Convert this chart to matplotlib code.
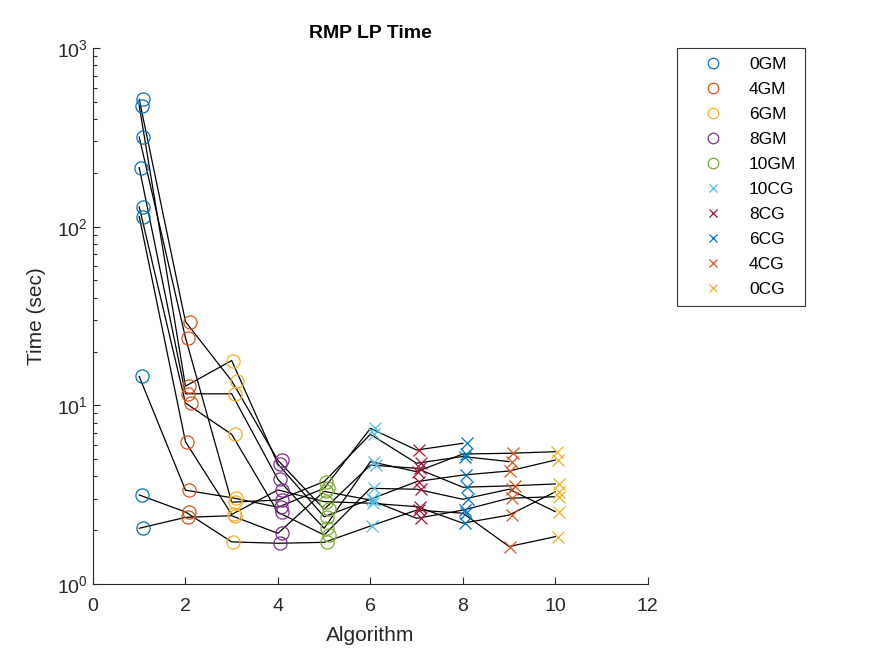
import numpy as np
import matplotlib.pyplot as plt

plt.rcParams['font.family'] = ['Liberation Sans', 'DejaVu Sans']

# algorithm names (x = 1..10)
algos = ['0GM', '4GM', '6GM', '8GM', '10GM', '10CG', '8CG', '6CG', '4CG', '0CG']
markers = ['o', 'o', 'o', 'o', 'o', 'x', 'x', 'x', 'x', 'x']
colors = ['#0072BD', '#D95319', '#EDB120', '#7E2F8E', '#77AC30',
          '#4DBEEE', '#A2142F', '#0072BD', '#D95319', '#EDB120']

nan = np.nan
# LP time (sec) per instance, one value per algorithm
inst1 = [516, 29.4, 13.7, 4.92, 2.62, 4.63, 4.44, 3.48, 3.54, 3.63]
inst2 = [475, 12.8, 17.8, 4.69, 2.38, 2.98, 3.74, 4.07, 4.29, 4.94]
inst3 = [317, 23.9, 2.87, 2.95, 3.74, 6.88, 4.74, 5.17, 4.84, nan]
inst4 = [214, 11.6, 11.6, 3.85, 2.05, 4.84, 4.25, 5.34, 5.39, 5.50]
inst5 = [129, 10.3, 6.88, 2.52, 1.88, 3.43, 3.39, 2.98, 3.39, 2.54]
inst6 = [114, 6.26, 2.45, 3.36, 2.89, 2.83, 2.71, 2.19, 2.43, 3.28]
inst7 = [14.5, 3.35, 3.04, 2.69, 3.43, 7.43, 5.62, 6.13, nan, nan]
inst8 = [3.15, 2.53, 1.72, 1.69, 1.71, 2.11, 2.59, 2.49, 1.62, 1.84]
inst9 = [2.05, 2.36, 2.41, 1.92, 3.30, 2.95, 2.33, 2.59, 3.02, 3.08]
instances = [inst1, inst2, inst3, inst4, inst5, inst6, inst7, inst8, inst9]

# small horizontal offsets of the markers
jitter = [0.08, 0.03, 0.05, 0.04, 0.07, 0.04, 0.06, 0.03, 0.05]

x = np.arange(1, 11)
T = np.array(instances)

fig = plt.figure(figsize=(8.75, 6.56), dpi=100)
ax = fig.add_axes([0.1063, 0.1098, 0.634, 0.817])

for row in T:
    ax.plot(x, row, color='black', linewidth=0.9, zorder=2)

for a in range(10):
    xs = [x[a] + jitter[i] + 0.02 * ((a + i) % 3) for i in range(len(T))]
    if markers[a] == 'o':
        ax.plot(xs, T[:, a], linestyle='none', marker='o', markersize=9.5,
                markerfacecolor='none', markeredgecolor=colors[a],
                markeredgewidth=0.9, label=algos[a], zorder=3)
    else:
        ax.plot(xs, T[:, a], linestyle='none', marker='x', markersize=8,
                color=colors[a], markeredgewidth=0.9, label=algos[a], zorder=3)

ax.set_yscale('log')
ax.set_xlim(0, 12)
ax.set_ylim(1, 1000)
ax.set_xticks([0, 2, 4, 6, 8, 10, 12])
ax.tick_params(axis='both', which='both', direction='in', colors='#262626',
               labelsize=14, width=0.8)
ax.tick_params(axis='both', which='major', length=5)
ax.tick_params(axis='y', which='minor', length=3)
ax.tick_params(axis='x', pad=10)
for s in ['top', 'right']:
    ax.spines[s].set_visible(False)
for s in ['left', 'bottom']:
    ax.spines[s].set_color('#262626')
    ax.spines[s].set_linewidth(0.8)

ax.set_title('RMP LP Time', fontsize=14, fontweight='bold', pad=7)
ax.set_xlabel('Algorithm', fontsize=15, color='#262626', labelpad=8)
ax.set_ylabel('Time (sec)', fontsize=15, color='#262626', labelpad=8)

leg = fig.legend(loc='upper left', bbox_to_anchor=(677 / 875, 1 - 48 / 656),
                 fontsize=12.5, frameon=True, fancybox=False, edgecolor='black',
                 borderpad=0.5, labelspacing=0.57, handlelength=3.1,
                 handletextpad=0.55, borderaxespad=0, markerscale=0.8)
leg.get_frame().set_linewidth(0.8)

fig.savefig('out.png', dpi=100)
